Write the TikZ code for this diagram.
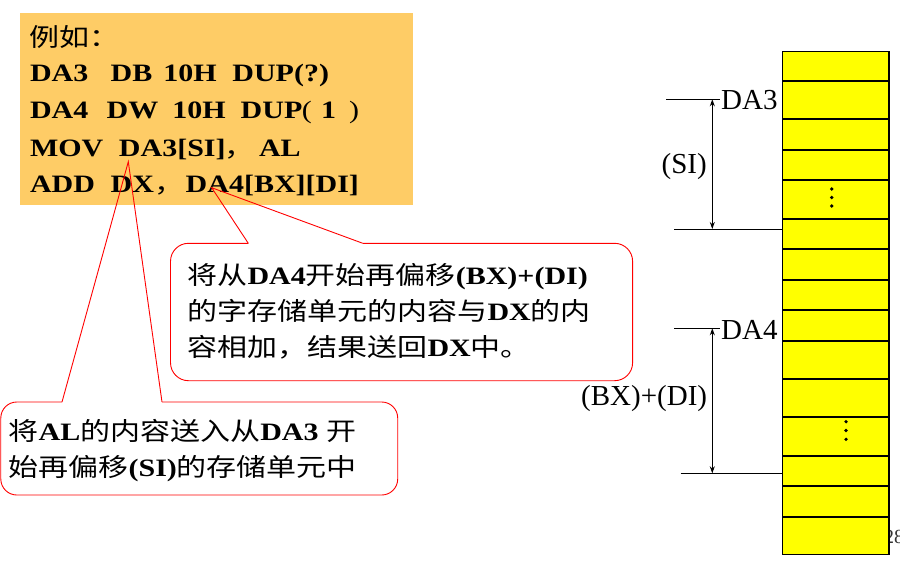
\documentclass[tikz,border=0pt]{standalone}
\usepackage{fontspec}
\setmainfont{Liberation Serif}[FakeStretch=1.2]
\newfontfamily\zhfont{Noto Sans CJK SC}[FakeStretch=1.2]
\newfontfamily\lblfont{Liberation Serif}
\usetikzlibrary{arrows.meta}
\definecolor{codebg}{RGB}{254,204,102}
\definecolor{memyel}{RGB}{255,255,0}
\newcommand\zh[1]{{\zhfont\mdseries #1}}
\newcommand\wat[2]{\rlap{\hspace*{#1}#2}}
\tikzset{
  codetext/.style={anchor=base west, inner sep=0pt, font=\fontsize{25}{30}\selectfont\bfseries},
  notetext/.style={anchor=base west, inner sep=0pt, font=\fontsize{25}{30}\selectfont},
  lbl/.style={inner sep=0pt, font=\lblfont\fontsize{29}{34}\selectfont},
  cellbox/.style={draw=black, fill=memyel, line width=1.2pt, inner sep=0pt, minimum width=106.6pt},
  callout/.style={draw=red, line width=0.9pt},
  dimline/.style={draw=black, line width=1pt},
  dimarrow/.style={draw=black, line width=1pt, {Stealth[length=7pt,width=5pt]}-{Stealth[length=7pt,width=5pt]}},
  memdot/.style={fill=black, circle, inner sep=0pt, minimum size=3.6pt}
}
\begin{document}
\begin{tikzpicture}[x=1pt,y=-1pt]
\useasboundingbox (0,0) rectangle (900,563);

% code box
\node[fill=codebg, anchor=north west, inner sep=0pt, minimum width=393.2pt, minimum height=192pt] (code) at (19.3,12.3) {};
\node[codetext] (l1) at (29.3,46.5) {\zh{例如：}};
\node[codetext] (l2) at (29.3,81.7) {\wat{0pt}{DA3}\wat{80.7pt}{DB}\wat{133.4pt}{10H}\wat{202.4pt}{DUP(?)}};
\node[codetext] (l3) at (29.3,118.3) {\wat{0pt}{DA4}\wat{76.7pt}{DW}\wat{142.4pt}{10H}\wat{210.7pt}{DUP}\wat{272pt}{\mdseries (}\wat{291pt}{1}\wat{319pt}{\mdseries )}};
\node[codetext] (l4) at (29.3,156) {\wat{0pt}{MOV}\wat{89pt}{DA3[SI]}\wat{194.7pt}{\zh{，}}\wat{229pt}{AL}};
\node[codetext] (l5) at (29.3,192.7) {\wat{0pt}{ADD}\wat{80.7pt}{DX}\wat{124.7pt}{\zh{，}}\wat{155.7pt}{DA4[BX][DI]}};

% callout texts
\node[notetext] (n1a) at (187.3,284) {\zh{将从}\textbf{DA4}\zh{开始再偏移}\textbf{(BX)+(DI)}};
\node[notetext] (n1b) at (187.3,320.5) {\zh{的字存储单元的内容与}\textbf{DX}\zh{的内}};
\node[notetext] (n1c) at (187.3,356.5) {\zh{容相加，结果送回}\textbf{DX}\zh{中。}};
\node[notetext] (n2a) at (8.4,440) {\zh{将}\textbf{AL}\zh{的内容送入从}\textbf{DA3} \zh{开}};
\node[notetext] (n2b) at (8.4,476.5) {\zh{始再偏移}\textbf{(SI)}\zh{的存储单元中}};

% callout shapes
\coordinate (tipA) at (211.7,187.7);
\coordinate (tipB) at (128.3,161.7);
\draw[callout, rounded corners=18pt] (248.3,243.3) -- (170.5,243.3) -- (170.5,380.7) -- (632.6,380.7) -- (632.6,243.3) -- (362.8,243.3);
\draw[callout] (248.3,243.3) -- (tipA) -- (362.8,243.3);
\draw[callout, rounded corners=16pt] (62,402) -- (0.8,402) -- (0.8,495) -- (397.7,495) -- (397.7,402) -- (162,402);
\draw[callout] (62,402) -- (tipB) -- (162,402);

% page number (behind column)
\node[anchor=base west, inner sep=0pt, font=\lblfont\fontsize{20}{24}\selectfont, text=black!80] (pg) at (884,543) {28};

% memory column
\foreach \a/\b [count=\i] in {50.7/80.3, 80.3/118.3, 118.3/149.3, 149.3/179.3, 179.3/218.3, 218.3/248.3, 248.3/279.3, 279.3/309.3, 309.3/340.3, 340.3/378.3, 378.3/416.3, 416.3/455.3, 455.3/485.3, 485.3/516.3, 516.3/554}
  \node[cellbox, minimum height={\b-\a}, anchor=north west] (m\i) at (781.7,\a) {};

% dots
\node[memdot] (d1) at (831.7,189) {};
\node[memdot] (d2) at (831.7,197.5) {};
\node[memdot] (d3) at (831.7,206) {};
\node[memdot] (d4) at (846,421.7) {};
\node[memdot] (d5) at (846,430.5) {};
\node[memdot] (d6) at (846,439.3) {};

% DA3 dimension
\coordinate (a3l) at (666,99.3);
\coordinate (a3r) at (720,99.3);
\coordinate (a3t) at (712.3,99.3);
\coordinate (a3b) at (712.3,229);
\coordinate (a3bl) at (674,229);
\coordinate (a3br) at (781.7,229);
\draw[dimline] (a3l) -- (a3r);
\draw[dimline] (a3bl) -- (a3br);
\draw[dimarrow] (a3t) -- (a3b);
\node[lbl, anchor=base west] (da3) at (721,109.3) {DA3};
\node[lbl, anchor=base east] (si) at (707,173.6) {(SI)};

% DA4 dimension
\coordinate (a4l) at (674,328.3);
\coordinate (a4r) at (720,328.3);
\coordinate (a4t) at (712.3,328.3);
\coordinate (a4b) at (712.3,473.3);
\coordinate (a4bl) at (680.7,473.3);
\coordinate (a4br) at (781.7,473.3);
\draw[dimline] (a4l) -- (a4r);
\draw[dimline] (a4bl) -- (a4br);
\draw[dimarrow] (a4t) -- (a4b);
\node[lbl, anchor=base west] (da4) at (721,339.5) {DA4};
\node[lbl, anchor=base east] (bxdi) at (707.3,405.7) {(BX)+(DI)};
\end{tikzpicture}
\end{document}
